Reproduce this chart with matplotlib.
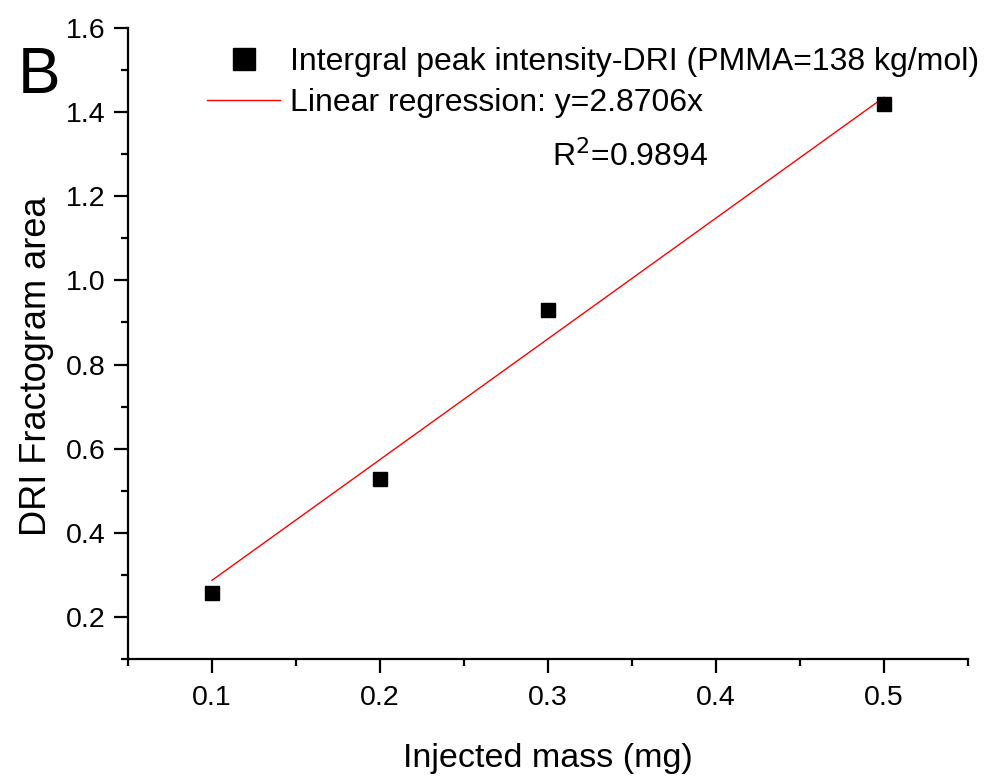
import matplotlib
matplotlib.use('Agg')
import matplotlib.pyplot as plt
from matplotlib.lines import Line2D
from matplotlib.ticker import MultipleLocator
import numpy as np

# Data
mass_mg = [0.1, 0.2, 0.3, 0.5]
dri_area = [0.257, 0.528, 0.930, 1.420]
slope = 2.8706
r_squared = 0.9894
fit_range = [0.1, 0.5]
x_ticks = [0.1, 0.2, 0.3, 0.4, 0.5]
x_tick_labels = ['0.1', '0.2', '0.3', '0.4', '0.5']

plt.rcParams['font.family'] = ['Liberation Sans', 'DejaVu Sans']

fig = plt.figure(figsize=(9.87, 7.82), dpi=100)
ax = fig.add_axes([128 / 987, 1 - 659 / 782, 840 / 987, 631 / 782])

# Fit line and measured points
fit_x = np.array(fit_range)
ax.plot(fit_x, slope * fit_x, color='red', linewidth=1.0)
ax.plot(mass_mg, dri_area, linestyle='none', marker='s', markersize=9.5,
        color='black')

ax.set_xlim(0.05, 0.55)
ax.set_ylim(0.1, 1.6)
ax.xaxis.set_minor_locator(MultipleLocator(0.05))
ax.yaxis.set_major_locator(MultipleLocator(0.2))
ax.yaxis.set_minor_locator(MultipleLocator(0.1))
ax.set_xticks(x_ticks)
ax.set_xticklabels(x_tick_labels)

ax.spines['top'].set_visible(False)
ax.spines['right'].set_visible(False)
for s in ('left', 'bottom'):
    ax.spines[s].set_linewidth(1.6)

ax.tick_params(which='major', length=10, width=1.6, labelsize=20.5, pad=6)
ax.tick_params(which='minor', length=5, width=1.6)
ax.tick_params(axis='x', which='major', pad=9)

ax.set_xlabel('Injected mass (mg)', fontsize=24.5, labelpad=23)
ax.set_ylabel('DRI Fractogram area', fontsize=26)
ax.yaxis.set_label_coords(-0.088, 0.464)

# Legend
handles = [
    Line2D([], [], linestyle='none', marker='s', markersize=16, color='black'),
    Line2D([], [], color='red', linewidth=1.0),
]
labels = ['Intergral peak intensity-DRI (PMMA=138 kg/mol)',
          'Linear regression: y=2.8706x']
ax.legend(handles, labels, loc='upper left', bbox_to_anchor=(207 / 987, 1 - 47 / 782),
          bbox_transform=fig.transFigure, frameon=False, fontsize=23,
          handlelength=2.29, handletextpad=0.31, labelspacing=0.36,
          borderpad=0, borderaxespad=0)

fig.text(552 / 987, 1 - 166 / 782, 'R$^2$=%.4f' % r_squared, fontsize=23,
         ha='left', va='baseline')

fig.text(18 / 987, 1 - 93 / 782, 'B', fontsize=46, ha='left', va='baseline')

fig.savefig('out.png', dpi=100)
